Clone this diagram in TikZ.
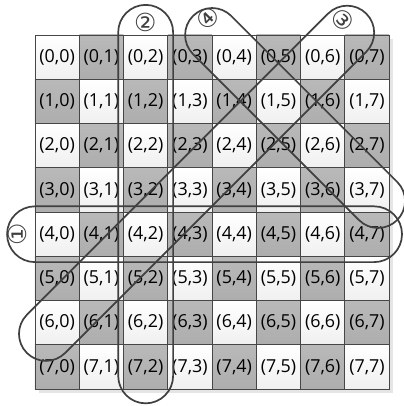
\documentclass[tikz,border=0pt]{standalone}
\usepackage{fontspec}
\setmainfont{Open Sans}
\newfontfamily\circfont{DejaVu Sans}
\usetikzlibrary{shapes.misc}

\begin{document}
\begin{tikzpicture}[
    cell/.style={draw=gray!55!black, line width=0.6pt, minimum size=1cm,
                 inner sep=0pt, font=\fontsize{11.5}{12}\selectfont},
    light/.style={cell, top color=white, bottom color=gray!12},
    dark/.style={cell, top color=gray!55, bottom color=gray!64},
    loop/.style={draw=black!75, line width=1.1pt, rounded rectangle, inner sep=0pt},
    tag/.style={font=\circfont\fontsize{16}{18}\selectfont, text=black!75, inner sep=0pt},
]
\useasboundingbox (-0.79,0.79) rectangle (8.32,-8.38);
% shadow of the board
\fill[gray!20] (0.08,-0.08) rectangle (8.08,-8.08);
\foreach \i in {0,...,7}
  \foreach \j in {0,...,7}{
    \ifodd\numexpr\i+\j\relax
      \node[dark] (c\i\j) at (\j+0.5,-\i-0.5) {(\i,\j)};
    \else
      \node[light] (c\i\j) at (\j+0.5,-\i-0.5) {(\i,\j)};
    \fi
  }
% the four lines
\node[loop, minimum width=8.92cm, minimum height=1.26cm] (row4) at (3.83,-4.5) {};
\node[loop, minimum width=9.0cm, minimum height=1.24cm, rotate=90] (col2) at (2.5,-3.82) {};
\node[loop, minimum width=10.84cm, minimum height=1.22cm, rotate=45] (anti) at (3.65,-3.35) {};
\node[loop, minimum width=6.52cm, minimum height=1.22cm, rotate=-45] (diag) at (5.875,-1.875) {};
\node[tag, rotate=90] (t1) at (-0.40,-4.5) {①};
\node[tag] (t2) at (2.49,0.29) {②};
\node[tag, rotate=-45] (t3) at (6.96,0.34) {③};
\node[tag, rotate=45] (t4) at (3.91,0.38) {④};
\end{tikzpicture}
\end{document}
